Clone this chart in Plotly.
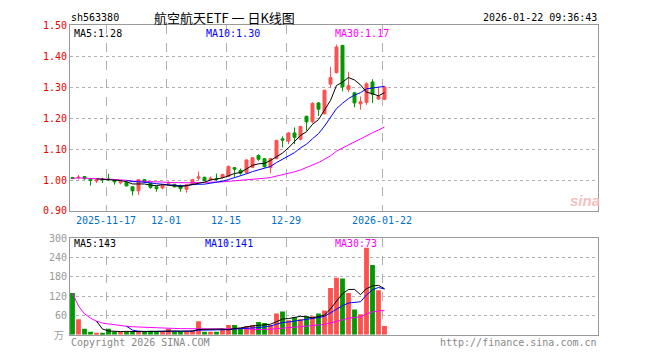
import plotly.graph_objects as go
import pandas as pd

# ---- data ----
opens = [1.008, 1.007, 1.011, 1.004, 0.997, 1.003, 1.003, 0.999, 0.991, 0.993,
         0.978, 0.965, 1.001, 0.990, 0.978, 0.974, 0.989, 0.986, 0.982, 0.970,
         0.985, 1.006, 1.009, 1.001, 1.004, 1.008, 1.012, 1.040, 1.031, 1.024,
         1.041, 1.079, 1.069, 1.040, 1.069, 1.133, 1.126, 1.152, 1.132, 1.206,
         1.188, 1.249, 1.214, 1.310, 1.347, 1.435, 1.293, 1.282, 1.246, 1.251,
         1.317, 1.262, 1.261]
highs = [1.010, 1.016, 1.013, 1.005, 1.003, 1.007, 1.020, 1.000, 0.999, 0.995,
         0.979, 1.003, 1.002, 0.991, 0.980, 0.983, 0.995, 0.988, 0.985, 0.986,
         1.002, 1.027, 1.010, 1.011, 1.021, 1.020, 1.047, 1.041, 1.037, 1.066,
         1.074, 1.083, 1.070, 1.071, 1.130, 1.141, 1.155, 1.170, 1.175, 1.208,
         1.251, 1.252, 1.292, 1.366, 1.438, 1.437, 1.350, 1.284, 1.270, 1.316,
         1.326, 1.301, 1.302]
lows = [1.003, 1.002, 1.001, 0.982, 0.990, 0.990, 0.999, 0.985, 0.986, 0.979,
        0.950, 0.952, 0.993, 0.972, 0.962, 0.970, 0.986, 0.976, 0.962, 0.959,
        0.984, 0.999, 0.998, 0.999, 0.997, 1.004, 1.009, 1.010, 1.017, 1.020,
        1.038, 1.062, 1.040, 1.022, 1.067, 1.105, 1.116, 1.116, 1.128, 1.159,
        1.183, 1.207, 1.212, 1.298, 1.345, 1.287, 1.284, 1.235, 1.227, 1.243,
        1.249, 1.259, 1.258]
closes = [1.005, 1.009, 1.004, 0.999, 1.001, 1.001, 1.001, 0.994, 0.995, 0.981,
          0.965, 1.001, 0.994, 0.976, 0.972, 0.982, 0.992, 0.978, 0.972, 0.985,
          1.001, 1.010, 0.998, 1.006, 1.002, 1.018, 1.044, 1.035, 1.022, 1.065,
          1.072, 1.067, 1.043, 1.069, 1.128, 1.129, 1.152, 1.138, 1.173, 1.188,
          1.248, 1.229, 1.290, 1.331, 1.430, 1.301, 1.305, 1.249, 1.253, 1.311,
          1.277, 1.270, 1.301]
volumes = [129, 48, 18, 9, 6, 6, 18, 9, 9, 9,
           9, 12, 9, 12, 9, 9, 18, 9, 9, 9,
           12, 42, 9, 9, 9, 18, 30, 30, 18, 27,
           30, 39, 36, 30, 66, 72, 45, 54, 48, 57,
           57, 66, 75, 145, 177, 174, 129, 78, 63, 270,
           216, 138, 27]

tick_index = [6, 16, 26, 36, 52]
tick_labels = ["2025-11-17", "12-01", "12-15", "12-29", "2026-01-22"]
price_ticks = [0.90, 1.00, 1.10, 1.20, 1.30, 1.40, 1.50]
vol_ticks = [60, 120, 180, 240, 300]

title_text = "航空航天ETF 一 日K线图"
code_text = "sh563380"
time_text = "2026-01-22 09:36:43"
price_ma_text = ["MA5:1.28", "MA10:1.30", "MA30:1.17"]
vol_ma_text = ["MA5:143", "MA10:141", "MA30:73"]

# ---- derived ----
x = list(range(len(closes)))
UP = "#ff5050"
DOWN = "#009900"
bar_colors = [UP if c >= o else DOWN for o, c in zip(opens, closes)]
cs = pd.Series(closes)
vs = pd.Series(volumes)
ma5 = cs.rolling(5).mean()
ma10 = cs.rolling(10).mean()
ma30 = cs.rolling(30, min_periods=1).mean()
vma5 = vs.rolling(5).mean()
vma10 = vs.rolling(10).mean()
vma30 = vs.rolling(30, min_periods=1).mean()

W, H = 660, 360
L, R = 70, 598
off = 2.5 / 6.0
xr = [-off, (R - L) / 6.0 - off]
grid_x = [t - off for t in tick_index]

MONO = "DejaVu Sans Mono"

fig = go.Figure()
fig.add_trace(go.Candlestick(
    x=x, open=opens, high=highs, low=lows, close=closes,
    increasing=dict(line=dict(color=UP, width=1), fillcolor=UP),
    decreasing=dict(line=dict(color=DOWN, width=1), fillcolor=DOWN),
    xaxis="x", yaxis="y", showlegend=False, hoverinfo="skip"))
for s, col in [(ma30, "#ff00ff"), (ma10, "#0000ff"), (ma5, "#000000")]:
    fig.add_trace(go.Scatter(x=x, y=s, mode="lines", line=dict(color=col, width=1),
                             xaxis="x", yaxis="y", showlegend=False, hoverinfo="skip"))

fig.add_trace(go.Bar(x=x, y=volumes, marker=dict(color=bar_colors, line=dict(width=0)),
                     width=0.8, xaxis="x2", yaxis="y2", showlegend=False, hoverinfo="skip"))
for s, col in [(vma30, "#ff00ff"), (vma10, "#0000ff"), (vma5, "#000000")]:
    fig.add_trace(go.Scatter(x=x, y=s, mode="lines", line=dict(color=col, width=1),
                             xaxis="x2", yaxis="y2", showlegend=False, hoverinfo="skip"))

xdom = [L / W, R / W]
fig.update_layout(
    width=W, height=H, margin=dict(l=0, r=0, t=0, b=0),
    paper_bgcolor="white", plot_bgcolor="white",
    boxgap=0.3,
    xaxis=dict(domain=xdom, range=xr, anchor="y", tickvals=grid_x, ticktext=tick_labels,
               showgrid=True, gridcolor="#b0b0b0", griddash="dash", gridwidth=1,
               showline=True, mirror=True, linecolor="#999999", linewidth=1,
               ticks="", zeroline=False, rangeslider=dict(visible=False),
               tickfont=dict(family=MONO, size=10, color="#0070c8")),
    yaxis=dict(domain=[(H - 212) / H, (H - 20) / H], range=[0.90, 1.50], anchor="x",
               tickvals=price_ticks, tickformat=".2f",
               showgrid=True, gridcolor="#b0b0b0", griddash="dot", gridwidth=1,
               showline=True, mirror=True, linecolor="#999999", linewidth=1,
               ticks="", zeroline=False,
               tickfont=dict(family=MONO, size=10, color="#ee0000")),
    xaxis2=dict(domain=xdom, range=xr, anchor="y2", tickvals=grid_x, showticklabels=False,
                showgrid=True, gridcolor="#b0b0b0", griddash="dash", gridwidth=1,
                showline=True, mirror=True, linecolor="#999999", linewidth=1,
                ticks="", zeroline=False),
    yaxis2=dict(domain=[(H - 340) / H, (H - 240) / H], range=[0, 300], anchor="x2",
                tickvals=vol_ticks,
                showgrid=True, gridcolor="#b0b0b0", griddash="dot", gridwidth=1,
                showline=True, mirror=True, linecolor="#999999", linewidth=1,
                ticks="", zeroline=False,
                tickfont=dict(family=MONO, size=10, color="#999999")),
)

def ann(text, px, py, xanchor="left", color="#000000", size=10, family=MONO, **kw):
    fig.add_annotation(text=text, x=px / W, y=1 - py / H, xref="paper", yref="paper",
                       xanchor=xanchor, yanchor="middle", showarrow=False,
                       font=dict(family=family, size=size, color=color), **kw)

ann(code_text, 69, 12)
ann(title_text, 224, 12, xanchor="center", size=13, family="Noto Sans CJK SC",
    borderpad=0)
ann(time_text, 599, 12, xanchor="right")
ann(price_ma_text[0], 72, 28)
ann(price_ma_text[1], 204, 28, color="#0000ff")
ann(price_ma_text[2], 333, 28, color="#ff00ff")
ann(vol_ma_text[0], 72, 246)
ann(vol_ma_text[1], 203, 246, color="#0000ff")
ann(vol_ma_text[2], 333, 246, color="#ff00ff")
ann("万", 66, 340, xanchor="right", color="#999999", size=10, family="Noto Sans CJK SC")
ann("Copyright 2026 SINA.COM", 69, 348, color="#888888")
ann("http://finance.sina.com.cn", 599, 348, xanchor="right", color="#888888")
ann("<i><b>sina</b></i>", 585, 201, xanchor="center", color="#f3c0c0", size=15,
    family="Liberation Sans")

fig.write_html("out.html")
